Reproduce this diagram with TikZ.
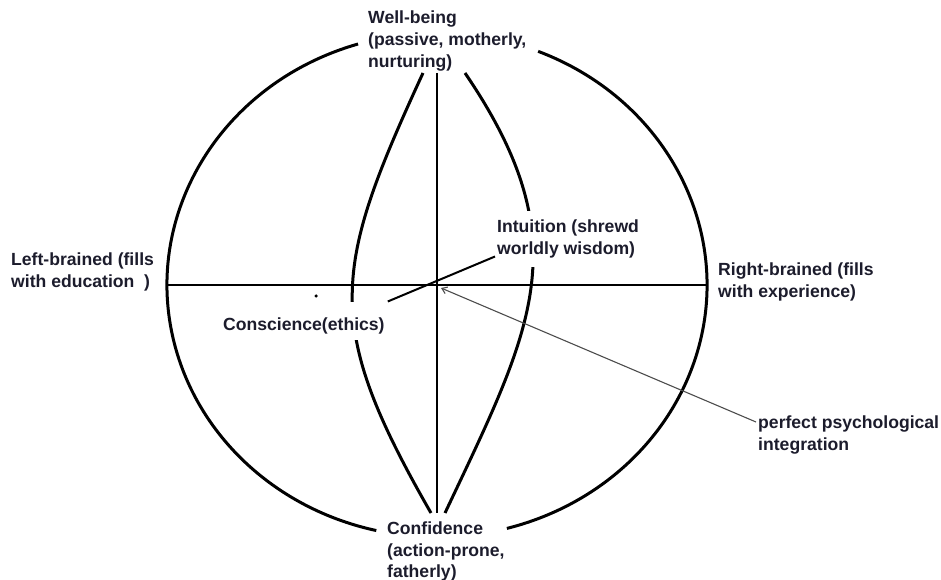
\documentclass[tikz,border=0pt]{standalone}
\usepackage{fontspec}
\setmainfont{Liberation Sans}
\usetikzlibrary{calc,arrows.meta}
\definecolor{ink}{RGB}{28,28,44}
\tikzstyle{lbl}=[anchor=north west, inner sep=0, align=left, text=ink, font=\bfseries\fontsize{17.6}{21.7}\selectfont]
\tikzstyle{rim}=[line width=3pt]
\tikzstyle{lens}=[line width=3pt]
\tikzstyle{axis}=[line width=2pt]
\tikzstyle{ptr}=[line width=1.1pt, draw=black!70, -{Straight Barb[length=5pt,width=7pt]}]
\tikzstyle{speck}=[shape=circle, minimum size=3.5pt, inner sep=0, fill=black]

\begin{document}
\begin{tikzpicture}[x=1pt, y=1pt]
\useasboundingbox (0,0) rectangle (941,580);
\coordinate (c) at (437,295);
\coordinate (w) at (167,295);
\coordinate (e) at (707,295);
\coordinate (n) at (437,507);
\coordinate (s) at (437,67);
\coordinate (nl) at (423,507);
\coordinate (sl) at (431,67);
\coordinate (nr) at (465,507);
\coordinate (sr) at (445,67);
\coordinate (integ) at (441,292);
% outer circle, open at top and bottom
\draw[rim] (c) ++(68:270 and 252) arc[start angle=68, end angle=-75, x radius=270, y radius=252];
\draw[rim] (c) ++(107:270 and 252) arc[start angle=107, end angle=257, x radius=270, y radius=252];
\draw[axis] (w)--(e);
\draw[axis] (n)--(s);
\draw[lens] (nl) .. controls (332,309.5) and (322.5,256) .. (sl);
\draw[lens] (nr) .. controls (580.4,337.5) and (532.5,252.3) .. (sr);
\node at (316,284)[speck](dot){};
% labels
\node[lbl] (well) at (368,569) {Well-being\\(passive, motherly,\\nurturing)};
\node[lbl] (left) at (11,327) {Left-brained (fills\\with education\ \ )};
\node[lbl] (right) at (718,317) {Right-brained (fills\\with experience)};
\node[lbl, anchor=base west, fill=white, text height=29pt, text depth=9pt, inner xsep=3pt] (consc) at (220,249.3) {Conscience(ethics)};
\node[lbl, fill=white, inner xsep=2pt, inner ysep=9pt] (intu) at (495,369) {Intuition (shrewd\\worldly wisdom)};
\node[lbl] (perf) at (758,164) {perfect psychological\\integration};
\node[lbl] (conf) at (387,58.5) {Confidence\\(action-prone,\\fatherly)};
\draw[axis] (consc.north east)--($(intu.south west)+(0,11)$);
\draw[ptr] ($(perf.north west)+(-2,-6)$)--(integ);
\end{tikzpicture}
\end{document}
